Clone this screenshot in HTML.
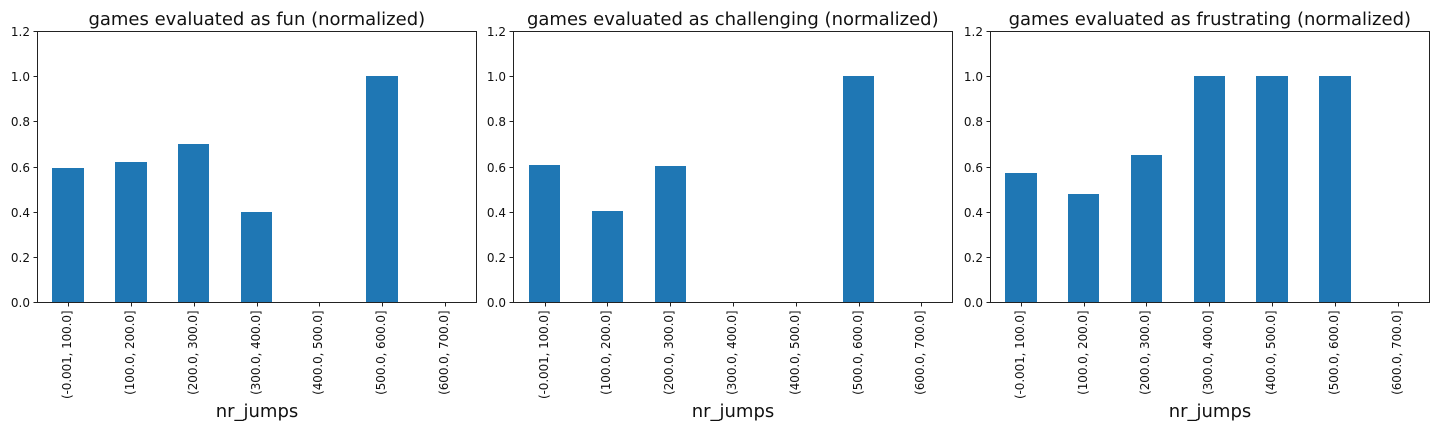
<!DOCTYPE html>
<html>
<head>
<meta charset="utf-8">
<title>Games evaluated by number of jumps</title>
<style>
html,body{margin:0;padding:0;background:#fff;width:1440px;height:432px;overflow:hidden}
svg{display:block}
text{font-family:"DejaVu Sans","Liberation Sans",sans-serif;fill:#111}
</style>
</head>
<body>
<svg id="chart" xmlns="http://www.w3.org/2000/svg" width="1440" height="432" viewBox="0 0 1440 432"></svg>
<script>
const categories = ["(-0.001, 100.0]","(100.0, 200.0]","(200.0, 300.0]","(300.0, 400.0]","(400.0, 500.0]","(500.0, 600.0]","(600.0, 700.0]"];
const yTicks = [0, 0.2, 0.4, 0.6, 0.8, 1.0, 1.2];
const yMax = 1.2;
const funValues = [0.593, 0.62, 0.70, 0.40, 0, 1.0, 0];
const challengingValues = [0.605, 0.403, 0.602, 0, 0, 1.0, 0];
const frustratingValues = [0.57, 0.478, 0.65, 1.0, 1.0, 1.0, 0];
const titles = ["games evaluated as fun (normalized)","games evaluated as challenging (normalized)","games evaluated as frustrating (normalized)"];
const panelNames = ["fun","challenging","frustrating"];
const xAxisTitle = "nr_jumps";

const NS = "http://www.w3.org/2000/svg";
const svg = document.getElementById("chart");
const plotTop = 31.5, plotBottom = 302.5, plotWidth = 439.5;
const panelLefts = [37.3, 513.8, 990];

function make(tag, attrs, parent, text) {
  const el = document.createElementNS(NS, tag);
  for (const k in attrs) el.setAttribute(k, attrs[k]);
  if (text !== undefined) el.textContent = text;
  parent.appendChild(el);
  return el;
}

function drawPanel(values, index) {
  const left = panelLefts[index];
  const frameLeft = Math.floor(left) + 0.5;
  const xScale = i => left + (i + 0.5) * plotWidth / categories.length;
  const yScale = v => plotBottom - (v / yMax) * (plotBottom - plotTop);
  const name = panelNames[index];
  const g = make("g", {}, svg);
  
  

  const barWidth = 0.5 * plotWidth / categories.length;
  values.forEach((v, i) => {
    const x1 = Math.floor(xScale(i) - barWidth / 2);
    const x2 = Math.floor(xScale(i) + barWidth / 2);
    const top = Math.floor(yScale(v));
    const bar = make("rect", {x: x1, y: top, width: x2 - x1, height: Math.max(0, 302 - top), fill: "#1f77b4", "shape-rendering": "crispEdges"}, g);
    
    
  });

  const frame = make("rect", {x: frameLeft, y: plotTop, width: 439, height: plotBottom - plotTop, fill: "none", stroke: "#222", "stroke-width": 1}, g);
  
  

  yTicks.forEach(t => {
    const y = Math.round(yScale(t) - 0.5) + 0.5;
    const tick = make("line", {x1: frameLeft - 4, x2: frameLeft, y1: y, y2: y, stroke: "#222", "stroke-width": 1}, g);
    
    
    const label = make("text", {x: frameLeft - 7.5, y: y + 4.5, "text-anchor": "end", "font-size": 12}, g, t.toFixed(1));
    
    
  });

  categories.forEach((c, i) => {
    const x = Math.round(xScale(i) - 0.5) + 0.5;
    const tick = make("line", {x1: x, x2: x, y1: plotBottom, y2: plotBottom + 4, stroke: "#222", "stroke-width": 1}, g);
    
    
    const label = make("text", {x: 0, y: 0, "text-anchor": "end", "font-size": 12, "letter-spacing": "-0.1", transform: "translate(" + (x + 2.3) + " " + (plotBottom + 8) + ") rotate(-90)"}, g, c);
    
    
  });

  const title = make("text", {x: frameLeft + 219.3, y: 25, "text-anchor": "middle", "font-size": 18}, g, titles[index]);
  
  

  const xTitle = make("text", {x: frameLeft + 219.5, y: 417, "text-anchor": "middle", "font-size": 18}, g, xAxisTitle);
  
  
}

[funValues, challengingValues, frustratingValues].forEach(drawPanel);
</script>
</body>
</html>
